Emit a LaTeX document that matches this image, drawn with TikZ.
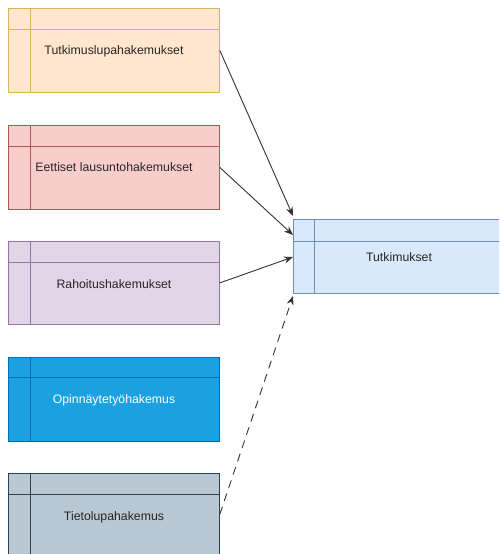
\documentclass[tikz,border=0pt]{standalone}
\usepackage{fontspec}
\setmainfont{Liberation Sans}
\usetikzlibrary{arrows.meta}
\definecolor{f1}{HTML}{FFE6CC}\definecolor{s1}{HTML}{D6B656}
\definecolor{f2}{HTML}{F8CECC}\definecolor{s2}{HTML}{B85450}
\definecolor{f3}{HTML}{E1D5E7}\definecolor{s3}{HTML}{9673A6}
\definecolor{f4}{HTML}{1BA1E2}\definecolor{s4}{HTML}{006EAF}
\definecolor{f5}{HTML}{BAC8D3}\definecolor{s5}{HTML}{23445D}
\definecolor{f6}{HTML}{DAE8FC}\definecolor{s6}{HTML}{6C8EBF}
\definecolor{edgec}{HTML}{333333}
\tikzset{
  tbl/.style={draw, line width=0.8pt, rectangle, anchor=north west, inner sep=0pt, minimum width=211pt},
  lbl/.style={font=\fontsize{12.3}{14}\selectfont, text=black!85, inner sep=0pt},
  conn/.style={draw=edgec, line width=0.9pt, -{Stealth[length=9pt,width=7pt]}},
}
\begin{document}
\begin{tikzpicture}[x=1pt,y=-1pt]
\useasboundingbox (0,0) rectangle (499,554);
\begin{scope}
\clip (0,0) rectangle (499,554);
% boxes
\node[tbl, fill=f1, draw=s1, minimum height=84pt] (b1) at (8,8) {};
\node[tbl, fill=f2, draw=s2, minimum height=84pt] (b2) at (8,125) {};
\node[tbl, fill=f3, draw=s3, minimum height=83pt] (b3) at (8,241) {};
\node[tbl, fill=f4, draw=s4, minimum height=84pt] (b4) at (8,357) {};
\node[tbl, fill=f5, draw=s5, minimum height=82pt] (b5) at (8,473) {};
\node[tbl, fill=f6, draw=s6, minimum height=74pt, minimum width=230pt] (t) at (293,219) {};
% inner lines
\draw[s1, line width=0.8pt] (30,8) -- (30,92) (8,29) -- (219,29);
\draw[s2, line width=0.8pt] (30,125) -- (30,209) (8,146) -- (219,146);
\draw[s3, line width=0.8pt] (30,241) -- (30,324) (8,262) -- (219,262);
\draw[s4, line width=0.8pt] (30,357) -- (30,441) (8,377) -- (219,377);
\draw[s5, line width=0.8pt] (30,473) -- (30,555) (8,494) -- (219,494);
\draw[s6, line width=0.8pt] (314,219) -- (314,293) (293,241) -- (523,241);
\end{scope}
% labels
\node[lbl] (l1) at (114,51) {Tutkimuslupahakemukset};
\node[lbl] (l2) at (114,167) {Eettiset lausuntohakemukset};
\node[lbl] (l3) at (114,284) {Rahoitushakemukset};
\node[lbl, text=white] (l4) at (114,400) {Opinnäytetyöhakemus};
\node[lbl] (l5) at (114,517) {Tietolupahakemus};
\node[lbl] (lt) at (399,257) {Tutkimukset};
% connector ends
\coordinate (e1) at (293,216);
\coordinate (e2) at (293,235);
\coordinate (e3) at (293,257);
\coordinate (e4) at (293,296);
\draw[conn] (b1.east) -- (e1);
\draw[conn] (b2.east) -- (e2);
\draw[conn] (b3.east) -- (e3);
\draw[conn, dash pattern=on 8pt off 6pt] (b5.east) -- (e4);
\end{tikzpicture}
\end{document}
